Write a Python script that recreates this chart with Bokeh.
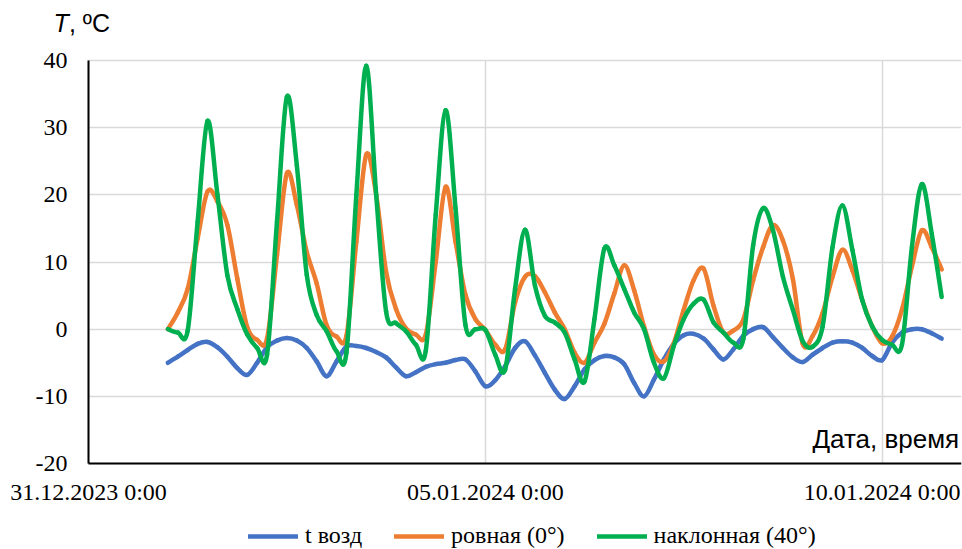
import pandas as pd
from bokeh.plotting import figure
from bokeh.models import ColumnDataSource, FixedTicker, Legend, LegendItem, Label
from bokeh.embed import file_html
from bokeh.resources import INLINE

# 3-hourly readings, 01.01.2024 00:00 .. 10.01.2024 18:00
origin = pd.Timestamp("2023-12-31 00:00")
times = pd.date_range("2024-01-01 00:00", "2024-01-10 18:00", freq="3h")

t_air = [
    -5.0, -4.1, -3.1, -2.2, -1.9, -2.7, -4.1, -5.8,
    -6.8, -5.0, -2.7, -1.7, -1.3, -1.7, -2.8, -4.8,
    -7.0, -4.8, -2.6, -2.5, -2.8, -3.4, -4.2, -5.7,
    -7.0, -6.4, -5.6, -5.2, -5.0, -4.6, -4.5, -6.3,
    -8.5, -7.6, -5.5, -2.8, -1.8, -3.9, -6.5, -9.0,
    -10.4, -8.5, -6.0, -4.6, -4.0, -4.2, -5.2, -8.0,
    -10.0, -7.5, -4.5, -2.2, -0.9, -0.7, -1.4, -3.0,
    -4.5, -3.0, -1.0, 0.0, 0.3, -1.2, -2.8, -4.2,
    -4.9, -3.8, -2.8, -2.0, -1.8, -2.0, -2.8, -4.0,
    -4.6, -2.0, -0.5, 0.0, 0.0, -0.6, -1.4,
]

flat_0 = [
    0.0, 2.5, 6.0, 13.5, 20.5, 19.0, 15.5, 7.5,
    0.3, -1.6, -1.4, 11.0, 23.2, 18.5, 11.5, 6.8,
    0.6, -1.1, -1.0, 13.0, 26.0, 20.0, 8.5, 3.0,
    0.1, -0.8, -0.8, 10.0, 21.2, 13.0, 5.1, 1.5,
    -0.1, -2.3, -3.0, 4.0, 7.8, 7.9, 5.5, 2.5,
    0.0, -3.5, -5.0, -2.0, 0.8, 5.3, 9.5, 5.8,
    0.4, -3.8, -4.8, -2.1, 2.9, 7.3, 9.0, 3.5,
    -0.5, -0.2, 1.4, 7.3, 12.2, 15.5, 13.2, 7.5,
    -2.2, -1.0, 2.4, 7.8, 11.8, 8.8, 4.3, 0.4,
    -2.1, -1.1, 2.9, 9.3, 14.7, 12.2, 8.9,
]

tilted_40 = [
    0.0, -0.5, -0.2, 16.0, 31.0, 20.0, 8.0, 3.0,
    -0.8, -2.8, -3.8, 16.0, 34.6, 24.4, 8.1, 2.1,
    -0.3, -3.3, -3.5, 20.0, 39.2, 20.0, 2.6, 0.9,
    -0.3, -2.3, -3.2, 17.0, 32.6, 18.0, 0.6, 0.0,
    -0.1, -3.8, -6.0, 6.0, 14.8, 6.5, 2.0, 1.0,
    -0.5, -4.5, -7.8, 1.5, 12.0, 9.5, 6.0, 2.5,
    0.0, -5.0, -7.3, -2.5, 1.5, 3.8, 4.4, 1.0,
    -0.5, -2.0, -1.5, 12.5, 18.0, 14.7, 7.8, 2.9,
    -1.8, -2.6, 0.4, 12.2, 18.4, 11.8, 4.3, 0.4,
    -1.6, -2.3, -2.3, 12.2, 21.6, 14.2, 4.8,
]

series_names = ["t возд", "ровная (0°)", "наклонная (40°)"]
series_colors = ["#4472C4", "#ED7D31", "#00B050"]

tick_days = [0, 5, 10]
tick_labels = ["31.12.2023 0:00", "05.01.2024 0:00", "10.01.2024 0:00"]
y_ticks = [-20, -10, 0, 10, 20, 30, 40]
y_labels = ["-20", "-10", "0", "10", "20", "30", "40"]

D_MIN, D_MAX = 0, 11
T_MIN, T_MAX = -20, 40
# the drawing area also holds the tick labels, the caption and the legend
D_LEFT = -1.1088
T_TOP, T_BOTTOM = 48.93, -32.80

days = list(((times - origin) / pd.Timedelta(days=1)).to_numpy())


def smooth_source(x, y):
    """Cubic Bezier pieces passing through every reading (smoothed line)."""
    n = len(x)
    cols = {k: [] for k in ("x0", "y0", "x1", "y1", "cx0", "cy0", "cx1", "cy1")}
    for i in range(n - 1):
        a = max(i - 1, 0)
        b = min(i + 2, n - 1)
        cols["x0"].append(x[i])
        cols["y0"].append(y[i])
        cols["x1"].append(x[i + 1])
        cols["y1"].append(y[i + 1])
        cols["cx0"].append(x[i] + (x[i + 1] - x[a]) / 6)
        cols["cy0"].append(y[i] + (y[i + 1] - y[a]) / 6)
        cols["cx1"].append(x[i + 1] - (x[b] - x[i]) / 6)
        cols["cy1"].append(y[i + 1] - (y[b] - y[i]) / 6)
    return ColumnDataSource(cols)


p = figure(
    width=962, height=549,
    x_range=(D_LEFT, D_MAX), y_range=(T_BOTTOM, T_TOP),
    output_backend="svg", toolbar_location=None,
    min_border_left=0, min_border_right=1,
    min_border_top=0, min_border_bottom=0,
)
p.outline_line_color = None
p.background_fill_color = "white"
p.border_fill_color = "white"

serif = "Liberation Serif"
sans = "Liberation Sans"
grid_color = "#D9D9D9"

for ax in (p.xaxis[0], p.yaxis[0]):
    ax.axis_line_color = "black"
    ax.axis_line_width = 2
    ax.major_tick_out = 0
    ax.major_tick_in = 0
    ax.minor_tick_out = 0
    ax.minor_tick_in = 0
    ax.major_tick_line_color = None
    ax.minor_tick_line_color = None
    ax.major_label_text_font = serif
    ax.major_label_text_font_size = "24px"
    ax.major_label_text_color = "black"

p.xaxis.ticker = FixedTicker(ticks=tick_days)
p.xaxis.major_label_overrides = dict(zip(tick_days, tick_labels))
p.xaxis.major_label_standoff = 15
p.xaxis.fixed_location = T_MIN
p.xaxis.bounds = (D_MIN, D_MAX)

p.yaxis.ticker = FixedTicker(ticks=y_ticks)
p.yaxis.major_label_overrides = dict(zip(y_ticks, y_labels))
p.yaxis.major_label_standoff = 21
p.yaxis.fixed_location = D_MIN
p.yaxis.bounds = (T_MIN, T_MAX)

p.xgrid.ticker = FixedTicker(ticks=tick_days)
p.ygrid.ticker = FixedTicker(ticks=y_ticks)
vgrid, hgrid = p.xgrid[0], p.ygrid[0]
for g in (vgrid, hgrid):
    g.grid_line_color = grid_color
    g.grid_line_width = 1.5

if "cross_bounds" in vgrid.properties():
    vgrid.cross_bounds = (T_MIN, T_MAX)
    hgrid.cross_bounds = (D_MIN, D_MAX)
else:
    vgrid.visible = False
    hgrid.visible = False
    inner_days = tick_days[1:]
    p.segment(x0=inner_days, x1=inner_days,
              y0=[T_MIN] * len(inner_days), y1=[T_MAX] * len(inner_days),
              line_color=grid_color, line_width=1.5, level="underlay")
    inner_t = y_ticks[1:]
    p.segment(x0=[D_MIN] * len(inner_t), x1=[D_MAX] * len(inner_t),
              y0=inner_t, y1=inner_t,
              line_color=grid_color, line_width=1.5, level="underlay")

items = []
for name, color, vals in zip(series_names, series_colors, [t_air, flat_0, tilted_40]):
    r = p.bezier(
        x0="x0", y0="y0", x1="x1", y1="y1",
        cx0="cx0", cy0="cy0", cx1="cx1", cy1="cy1",
        source=smooth_source(days, vals),
        line_color=color, line_width=4.5, line_cap="round", line_join="round",
    )
    items.append(LegendItem(label=name, renderers=[r]))

legend = Legend(
    items=items, orientation="horizontal", location=(248, 0),
    glyph_width=50, glyph_height=20, label_standoff=7, spacing=32,
    padding=0, margin=0,
    label_text_font=serif, label_text_font_size="24px", label_text_color="black",
    border_line_alpha=0, background_fill_alpha=0,
)
p.add_layout(legend)

# temperature caption above the value axis
p.add_layout(Label(x=-0.441, y=45.6, text="T", text_font=sans, text_font_style="italic",
                   text_font_size="25px", text_color="black",
                   text_baseline="alphabetic"))
p.add_layout(Label(x=-0.246, y=45.6, text=", ºC", text_font=sans,
                   text_font_size="25px", text_color="black",
                   text_baseline="alphabetic"))

# caption for the time axis, inside the plot area
p.add_layout(Label(x=10.97, y=-16.4, text="Дата, время", text_font=sans,
                   text_font_size="26px", text_color="black", text_align="right",
                   text_baseline="alphabetic"))

open("out.html", "w").write(file_html(p, INLINE))
